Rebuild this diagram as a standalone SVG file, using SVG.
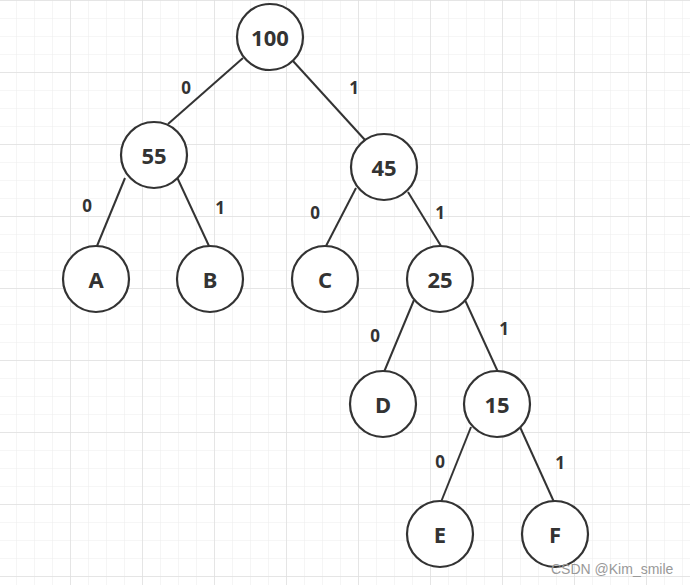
<svg xmlns="http://www.w3.org/2000/svg" width="690" height="585" viewBox="0 0 690 585">
<defs>
<pattern id="minor" width="18" height="18" patternUnits="userSpaceOnUse" x="-2" y="0">
<path d="M0 0H18M0 0V18" fill="none" stroke="#eeeeee" stroke-width="1.2"/>
</pattern>
<pattern id="major" width="72" height="72" patternUnits="userSpaceOnUse" x="-2" y="0">
<path d="M0 0H72M0 0V72" fill="none" stroke="#e0e0e0" stroke-width="1.5"/>
</pattern>
</defs>
<style>
.n circle{fill:#fff;stroke:#333;stroke-width:2.2}
.n text{font-family:"Noto Sans","Open Sans",sans-serif;font-weight:bold;font-size:22px;fill:#333;text-anchor:middle;dominant-baseline:central}
#edges line{stroke:#333;stroke-width:2}
.lbl{font-family:"Noto Sans","Open Sans",sans-serif;font-weight:bold;font-size:17px;fill:#333;text-anchor:middle;dominant-baseline:central}
</style>
<rect width="690" height="585" fill="#fff"/>
<rect width="690" height="585" fill="url(#minor)"/>
<rect width="690" height="585" fill="url(#major)"/>
<g id="edges">
<line x1="243" y1="58" x2="168" y2="124"/>
<line x1="293" y1="61" x2="365" y2="140"/>
<line x1="125" y1="178" x2="97" y2="246"/>
<line x1="176" y1="175" x2="209" y2="246"/>
<line x1="356" y1="188" x2="326" y2="246"/>
<line x1="408" y1="192" x2="441" y2="246"/>
<line x1="414" y1="300" x2="384" y2="372"/>
<line x1="465" y1="300" x2="498" y2="372"/>
<line x1="471" y1="427" x2="441" y2="502"/>
<line x1="520" y1="427" x2="554" y2="502"/>
</g>
<g id="labels">
<text class="lbl" x="186" y="87">0</text>
<text class="lbl" x="354" y="87">1</text>
<text class="lbl" x="87" y="205">0</text>
<text class="lbl" x="220" y="207">1</text>
<text class="lbl" x="315" y="212">0</text>
<text class="lbl" x="440" y="212">1</text>
<text class="lbl" x="375" y="335">0</text>
<text class="lbl" x="504" y="328">1</text>
<text class="lbl" x="440" y="461">0</text>
<text class="lbl" x="560" y="462">1</text>
</g>
<g id="n100" class="n"><circle cx="270" cy="37" r="33"/><text x="270" y="37">100</text></g>
<g id="n55" class="n"><circle cx="154" cy="155" r="33"/><text x="154" y="155">55</text></g>
<g id="n45" class="n"><circle cx="384" cy="167" r="33"/><text x="384" y="167">45</text></g>
<g id="nA" class="n"><circle cx="96" cy="279" r="33"/><text x="96" y="279">A</text></g>
<g id="nB" class="n"><circle cx="210" cy="279" r="33"/><text x="210" y="279">B</text></g>
<g id="nC" class="n"><circle cx="325" cy="279" r="33"/><text x="325" y="279">C</text></g>
<g id="n25" class="n"><circle cx="440" cy="279" r="33"/><text x="440" y="279">25</text></g>
<g id="nD" class="n"><circle cx="383" cy="404" r="33"/><text x="383" y="404">D</text></g>
<g id="n15" class="n"><circle cx="497" cy="404" r="33"/><text x="497" y="404">15</text></g>
<g id="nE" class="n"><circle cx="440" cy="534" r="33"/><text x="440" y="534">E</text></g>
<g id="nF" class="n"><circle cx="555" cy="534" r="33"/><text x="555" y="534">F</text></g>
<text x="551" y="574" font-family="Liberation Sans, Arial, sans-serif" font-size="14" fill="#999">CSDN @Kim_smile</text>
</svg>
